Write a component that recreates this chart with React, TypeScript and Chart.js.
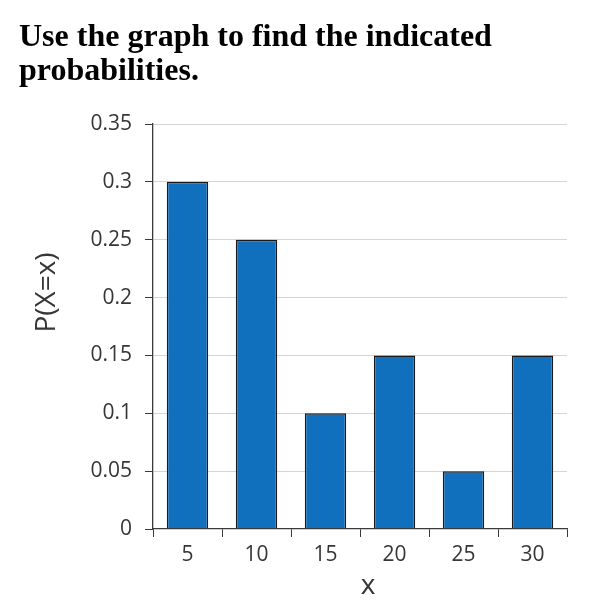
import React, { useEffect, useRef } from "react";
import { Chart, registerables } from "chart.js";

Chart.register(...registerables);

const titleLines = ["Use the graph to find the indicated", "probabilities."];
const categories = ["5", "10", "15", "20", "25", "30"];
const probabilities = [0.3, 0.25, 0.1, 0.15, 0.05, 0.15];
const yMin = 0;
const yMax = 0.35;
const yStep = 0.05;
const xTitle = "x";
const yTitle = "P(X=x)";

const TEXT = "#363636";
const AXIS = "#3a3a3a";
const FONT = "'Open Sans', 'Noto Sans', sans-serif";

const axisTitlesPlugin = {
  id: "axisTitles",
  afterDraw(chart: any) {
    const { ctx, chartArea } = chart;
    ctx.save();
    ctx.fillStyle = TEXT;
    ctx.font = `28px ${FONT}`;
    ctx.textAlign = "center";
    ctx.textBaseline = "alphabetic";
    // x title
    ctx.fillText(xTitle, (chartArea.left + chartArea.right) / 2 + 8, 594);
    // y title
    ctx.translate(55, (chartArea.top + chartArea.bottom) / 2 - 34);
    ctx.rotate(-Math.PI / 2);
    ctx.fillText(yTitle, 0, 0);
    ctx.restore();
  },
};

export default function App() {
  const canvasRef = useRef<HTMLCanvasElement | null>(null);

  useEffect(() => {
    if (!canvasRef.current) return;
    const chart = new Chart(canvasRef.current, {
      type: "bar",
      data: {
        labels: categories,
        datasets: [
          {
            data: probabilities,
            backgroundColor: "#1170BE",
            borderColor: "#1a1a1a",
            borderWidth: 1.5,
            barPercentage: 0.6,
            categoryPercentage: 1,
          },
        ],
      },
      options: {
        animation: false,
        responsive: false,
        devicePixelRatio: 1,
        layout: { padding: { top: 124, right: 33, left: 0, bottom: 0 } },
        plugins: {
          legend: { display: false },
          tooltip: { enabled: false },
          title: { display: false },
        },
        scales: {
          x: {
            type: "category",
            offset: true,
            grid: {
              display: true,
              offset: true,
              drawOnChartArea: false,
              drawTicks: true,
              tickLength: 8,
              tickColor: AXIS,
              color: AXIS,
            },
            border: { display: true, color: AXIS, width: 1.3, z: 1 },
            ticks: {
              color: TEXT,
              font: { family: FONT, size: 21 },
              padding: 5,
              maxRotation: 0,
              autoSkip: false,
            },
            afterFit(scale: any) {
              scale.height = 75;
            },
          },
          y: {
            type: "linear",
            min: yMin,
            max: yMax,
            grid: {
              display: true,
              drawTicks: true,
              tickLength: 8,
              color: (c: any) => (c.tick && c.tick.value === 0 ? "rgba(0,0,0,0)" : "#d4d4d4"),
              tickColor: AXIS,
              lineWidth: 1,
            },
            border: { display: true, color: AXIS, width: 1.3, z: 1 },
            ticks: {
              stepSize: yStep,
              color: TEXT,
              font: { family: FONT, size: 21 },
              padding: 13,
              callback: (v: any) => String(parseFloat(Number(v).toFixed(2))),
            },
            afterFit(scale: any) {
              scale.width = 153;
            },
          },
        },
      },
      plugins: [axisTitlesPlugin],
    });
    return () => chart.destroy();
  }, []);

  return (
    <div style={{ position: "absolute", left: 0, top: 0, width: 600, height: 604, background: "#fff" }}>
      <canvas
        ref={canvasRef}
        width={600}
        height={604}
        style={{ position: "absolute", left: 0, top: 0, width: 600, height: 604 }}
      />
      <div
        style={{
          position: "absolute",
          left: 19,
          top: 18,
          fontFamily: "'Liberation Serif', 'Times New Roman', serif",
          fontWeight: "bold",
          fontSize: 32,
          lineHeight: "34px",
          color: "#000",
          whiteSpace: "nowrap",
        }}
      >
        {titleLines.map((l, i) => (
          <div key={i}>{l}</div>
        ))}
      </div>
    </div>
  );
}
